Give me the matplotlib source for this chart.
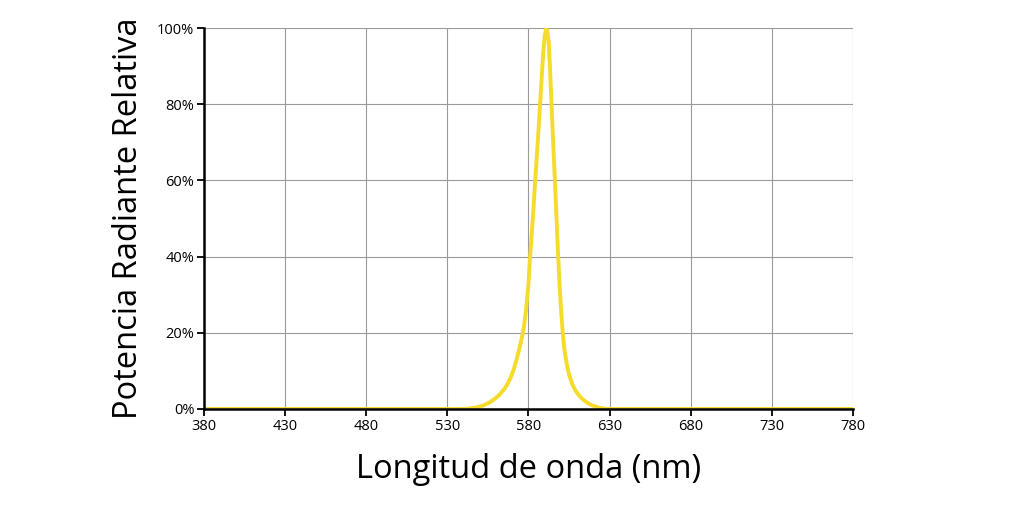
import matplotlib.pyplot as plt
from matplotlib.ticker import PercentFormatter

# wavelength (nm) and relative radiant power (%)
wavelength = [380, 540, 544, 548, 552, 556, 559, 562, 565, 567, 569, 571, 573,
              575, 577, 578.5, 580, 581, 582, 583, 584, 585, 586, 587, 588,
              589, 590, 590.8, 591.6, 592.4, 593.2, 594, 595, 596, 597, 598,
              599, 600, 601, 602, 603.5, 605, 607, 609, 611, 613, 616, 619,
              622, 625, 628, 632, 780]
power = [0, 0, 0.15, 0.4, 0.9, 1.7, 2.6, 3.7, 5.2, 6.5, 8.2, 10.5, 13.5,
         17, 21, 26, 33, 40, 46, 52, 59, 65.5, 72, 79, 86,
         93, 98, 99.7, 99.4, 96.5, 90, 82, 72, 62.5, 53, 43,
         34, 26.5, 20.5, 16, 12, 9, 6.5, 4.8, 3.6, 2.7, 1.7, 1.0,
         0.5, 0.2, 0.05, 0, 0]

xticks = list(range(380, 781, 50))
yticks = [0, 20, 40, 60, 80, 100]

plt.rcParams['font.family'] = ['Open Sans', 'DejaVu Sans']

fig = plt.figure(figsize=(10.24, 5.16), dpi=100)
ax = fig.add_axes([0.1992, 0.2074, 0.6338, 0.7383])
ax.plot(wavelength, power, color='#F5DC2A', lw=2.8, solid_capstyle='round',
        solid_joinstyle='round', zorder=3)

ax.set_xlim(380, 780)
ax.set_ylim(0, 100)
ax.set_xticks(xticks)
ax.set_yticks(yticks)
ax.yaxis.set_major_formatter(PercentFormatter(decimals=0))
ax.grid(True, color='#9a9a9a', lw=0.8)
ax.set_axisbelow(True)

for side in ['top', 'right']:
    ax.spines[side].set_visible(False)
for side in ['left', 'bottom']:
    ax.spines[side].set_linewidth(1.8)
    ax.spines[side].set_color('black')
    ax.spines[side].set_zorder(4)
ax.tick_params(direction='out', length=5, width=1.3, labelsize=10.5, pad=2)

ax.set_xlabel('Longitud de onda (nm)', fontsize=23.5, labelpad=14)
ax.set_ylabel('Potencia Radiante Relativa', fontsize=23.5, labelpad=9)

fig.savefig('out.png', dpi=100)
